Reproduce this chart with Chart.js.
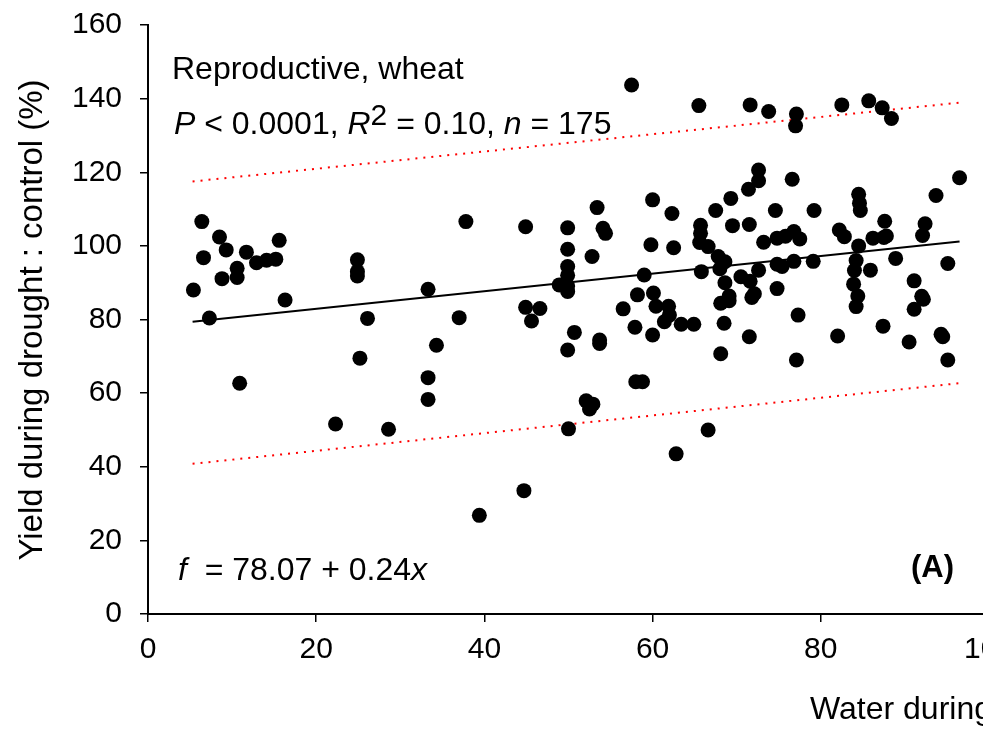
<!DOCTYPE html>
<html>
<head>
<meta charset="utf-8">
<script src="https://cdn.jsdelivr.net/npm/chart.js@4/dist/chart.umd.min.js"></script>
<style>
  html, body { margin: 0; padding: 0; background: #fff; overflow: hidden; }
  #wrap { position: absolute; left: 0; top: 0; width: 1040px; height: 730px; }
</style>
</head>
<body>
<div id="wrap"><canvas id="chart"></canvas></div>
<script>
// water during drought : control (%)
const waterPct = [
  5.4, 6.4, 6.6, 7.3, 8.5, 8.8, 9.3, 10.6, 10.6, 10.9, 11.7, 12.9, 14.1, 15.2, 15.6, 16.3,
  22.3, 24.9, 24.9, 24.9, 25.2, 26.1, 28.6, 33.3, 33.3, 33.3, 34.3, 37.0, 37.8, 39.4,
  44.7, 44.9, 44.9, 45.6, 46.6, 48.9, 49.9, 49.9, 49.9, 49.9, 49.9, 49.9, 49.9, 50.0, 50.7,
  52.1, 52.9, 52.5, 52.8, 53.4, 53.7, 53.7, 54.1, 54.4, 56.5, 57.5, 57.9, 58.0, 58.8, 58.2,
  59.0, 59.8, 60.0, 60.0, 60.1, 60.4, 61.9, 62.0, 61.4, 62.3, 62.5, 62.8, 63.4, 64.9,
  65.5, 65.7, 65.7, 65.6, 66.6, 65.8, 66.6, 67.5, 67.8, 68.6, 68.0, 68.6, 69.1, 69.1, 68.1,
  68.5, 68.1, 69.3, 69.5, 71.4, 71.5, 70.5, 71.6, 71.6, 72.1, 71.8, 71.5, 72.6, 72.6, 72.6,
  73.2, 73.8, 74.6, 74.8, 74.8, 75.4, 74.8, 75.8, 76.6, 76.8, 77.5, 76.8, 77.1, 77.0, 77.3,
  77.1, 79.2, 79.1, 82.0, 82.2, 82.8, 82.5, 83.9, 84.0, 84.2, 84.5, 84.5, 84.6, 84.7, 84.4,
  84.2, 85.7, 85.9, 86.2, 87.3, 87.5, 87.8, 87.6, 87.4, 88.4, 88.9, 90.5, 91.1, 91.1, 92.2,
  92.0, 92.1, 92.4, 93.7, 94.3, 94.5, 95.1, 95.1, 96.5
];
// yield during drought : control (%)
const yieldPct = [
  88.0, 106.6, 96.8, 80.4, 102.4, 91.1, 98.9, 93.9, 91.4, 62.7, 98.3, 95.4, 96.1, 96.4, 101.5, 85.3,
  51.6, 96.2, 93.0, 91.8, 69.5, 80.3, 50.2, 88.2, 64.2, 58.3, 73.0, 80.5, 106.6, 26.8,
  33.5, 105.2, 83.3, 79.6, 83.0, 89.4, 104.9, 99.1, 94.4, 92.0, 89.1, 87.6, 71.7, 50.3, 76.5,
  57.9, 57.0, 55.7, 97.1, 110.4, 74.4, 73.5, 104.8, 103.4, 82.9, 143.7, 77.9, 63.1, 63.1, 86.7,
  92.1, 100.3, 112.5, 75.8, 87.2, 83.6, 83.6, 81.2, 79.4, 108.8, 99.5, 43.5, 78.7, 78.7,
  138.1, 105.6, 103.4, 100.9, 99.8, 93.0, 50.0, 109.6, 97.1, 95.7, 93.8, 90.0, 86.4, 85.1, 84.4,
  79.0, 70.7, 112.9, 105.5, 115.4, 105.8, 91.6, 90.4, 138.3, 87.0, 86.0, 75.3, 120.6, 117.7, 93.4,
  101.0, 136.5, 109.6, 102.1, 95.0, 94.4, 88.4, 102.6, 118.1, 103.9, 101.9, 95.8, 135.8, 132.6, 81.2,
  69.0, 109.6, 95.8, 75.5, 104.3, 102.5, 138.3, 89.6, 93.3, 96.0, 100.0, 114.0, 111.6, 109.6, 86.4,
  83.5, 139.4, 93.4, 102.1, 137.5, 102.3, 102.7, 106.7, 78.2, 134.6, 96.6, 73.9, 90.5, 82.8, 85.5,
  86.3, 102.8, 106.0, 113.7, 76.0, 75.3, 95.2, 69.0, 118.5
];

// fitted line and prediction band, ends
const lineX = [5.3, 96.5];
const fitY = [79.4, 101.2];
const upperY = [117.5, 138.9];
const lowerY = [40.8, 62.7];

const xTicks = [0, 20, 40, 60, 80, 100];
const yTicks = [0, 20, 40, 60, 80, 100, 120, 140, 160];

const FONT = '"Liberation Sans", Arial, sans-serif';

function pairs(xs, ys) {
  return xs.map((x, i) => ({ x: x, y: ys[i] }));
}

function drawRuns(ctx, x, y, runs) {
  runs.forEach(r => {
    ctx.font = r[1];
    ctx.fillText(r[0], x, y + (r[2] || 0));
    x += ctx.measureText(r[0]).width;
  });
}

const labels = {
  id: 'labels',
  afterDraw(chart) {
    const ctx = chart.ctx;
    ctx.save();
    ctx.fillStyle = '#000';
    ctx.textAlign = 'left';
    ctx.textBaseline = 'alphabetic';
    const n = '32px ' + FONT, it = 'italic 32px ' + FONT;
    drawRuns(ctx, 172, 79, [['Reproductive, wheat', n]]);
    drawRuns(ctx, 174, 134, [
      ['P', it], [' < 0.0001, ', n], ['R', it], ['2', '30px ' + FONT, -9],
      [' = 0.10, ', n], ['n', it], [' = 175', n]
    ]);
    drawRuns(ctx, 178, 580, [['f', it], ['  = 78.07 + 0.24', n], ['x', it]]);
    drawRuns(ctx, 911, 577, [['(A)', 'bold 31px ' + FONT]]);
    drawRuns(ctx, 810, 719, [['Water during drought : control (%)', n]]);

    // y axis title
    ctx.translate(33, 320);
    ctx.rotate(-Math.PI / 2);
    ctx.textAlign = 'center';
    ctx.textBaseline = 'middle';
    ctx.font = '33px ' + FONT;
    ctx.fillText('Yield during drought : control (%)', 0, 0);
    ctx.restore();
  }
};

new Chart(document.getElementById('chart'), {
  type: 'scatter',
  data: {
    datasets: [
      {
        data: pairs(waterPct, yieldPct),
        backgroundColor: '#000',
        borderWidth: 0,
        pointRadius: 7.5,
        pointHoverRadius: 7.5
      },
      {
        type: 'line',
        data: pairs(lineX, fitY),
        borderColor: '#000',
        borderWidth: 2,
        pointRadius: 0,
        fill: false
      },
      {
        type: 'line',
        data: pairs(lineX, upperY),
        borderColor: '#ff0000',
        borderWidth: 2,
        borderDash: [2, 6],
        pointRadius: 0,
        fill: false
      },
      {
        type: 'line',
        data: pairs(lineX, lowerY),
        borderColor: '#ff0000',
        borderWidth: 2,
        borderDash: [2, 6],
        pointRadius: 0,
        fill: false
      }
    ]
  },
  options: {
    responsive: true,
    maintainAspectRatio: false,
    animation: false,
    layout: { padding: { top: 25, right: 51, left: 0, bottom: 0 } },
    plugins: { legend: { display: false }, tooltip: { enabled: false } },
    scales: {
      x: {
        type: 'linear',
        min: 0,
        max: 100,
        afterBuildTicks: s => { s.ticks = xTicks.map(v => ({ value: v })); },
        afterFit: s => { s.height = 116; },
        ticks: { color: '#000', padding: 10, font: { family: FONT, size: 30 } },
        grid: { drawOnChartArea: false, drawTicks: true, tickLength: 8, color: '#000', lineWidth: 1.5 },
        border: { color: '#000', width: 2 }
      },
      y: {
        type: 'linear',
        min: 0,
        max: 160,
        afterBuildTicks: s => { s.ticks = yTicks.map(v => ({ value: v })); },
        afterFit: s => { s.width = 148; s.paddingTop = 0; s.paddingBottom = 0; },
        ticks: { color: '#000', padding: 18, font: { family: FONT, size: 30 } },
        grid: { drawOnChartArea: false, drawTicks: true, tickLength: 8, color: '#000', lineWidth: 1.5 },
        border: { color: '#000', width: 2 }
      }
    }
  },
  plugins: [labels]
});
</script>
</body>
</html>
